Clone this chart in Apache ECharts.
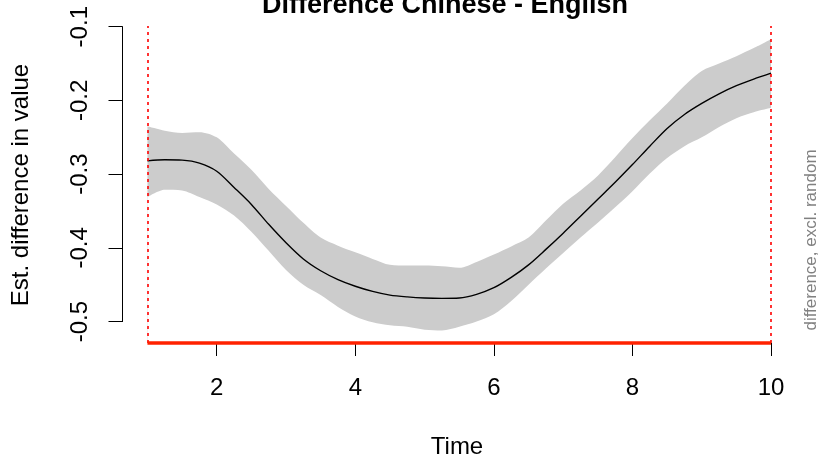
<!DOCTYPE html>
<html><head><meta charset="utf-8">
<script src="https://cdn.jsdelivr.net/npm/echarts@6/dist/echarts.min.js"></script>
<style>html,body{margin:0;padding:0;background:#fff}#c{width:825px;height:458px}</style>
</head><body><div id="c"></div>
<script>
// ---- data ----
const times    = [1, 1.25, 1.5, 1.75, 2, 2.25, 2.5, 2.75, 3, 3.25, 3.5, 3.75, 4, 4.25, 4.5, 4.75, 5, 5.25, 5.5, 5.75,
                  6, 6.25, 6.5, 6.75, 7, 7.25, 7.5, 7.75, 8, 8.25, 8.5, 8.75, 9, 9.25, 9.5, 9.75, 10];
const meanDiff = [-0.282, -0.2805, -0.281, -0.285, -0.296, -0.318, -0.341, -0.368, -0.393, -0.415, -0.431, -0.443,
                  -0.452, -0.459, -0.464, -0.4665, -0.468, -0.4685, -0.468, -0.463, -0.454, -0.440, -0.423, -0.402,
                  -0.380, -0.357, -0.334, -0.311, -0.287, -0.262, -0.238, -0.219, -0.204, -0.191, -0.180, -0.171, -0.163];
const ciUpper  = [-0.235, -0.241, -0.244, -0.243, -0.250, -0.272, -0.294, -0.320, -0.343, -0.366, -0.386, -0.397,
                  -0.406, -0.415, -0.423, -0.424, -0.424, -0.425, -0.427, -0.419, -0.409, -0.398, -0.386, -0.363,
                  -0.340, -0.322, -0.302, -0.277, -0.251, -0.227, -0.204, -0.180, -0.160, -0.150, -0.140, -0.129, -0.117];
const ciLower  = [-0.331, -0.321, -0.322, -0.331, -0.341, -0.356, -0.378, -0.404, -0.430, -0.450, -0.464, -0.480,
                  -0.493, -0.501, -0.505, -0.507, -0.511, -0.512, -0.507, -0.500, -0.490, -0.472, -0.450, -0.428,
                  -0.407, -0.386, -0.366, -0.345, -0.323, -0.299, -0.278, -0.262, -0.250, -0.236, -0.224, -0.216, -0.210];
const sigWindow = [1, 10];           // start / end of significant difference
const xTicks = [2, 4, 6, 8, 10];
const yTicks = [-0.5, -0.4, -0.3, -0.2, -0.1];
const titleText = 'Difference Chinese - English';
const xTitle = 'Time';
const yTitle = 'Est. difference in value';
const sideText = 'difference, excl. random';

// ---- layout ----
const FONT = '"Liberation Sans", Arial, Helvetica, sans-serif';
const xMin = 0.64, xMax = 10.36, yMin = -0.529, yMax = -0.099;
const chart = echarts.init(document.getElementById('c'), null, {renderer: 'canvas'});

function txt(x, y, text, size, opts) {
  opts = opts || {};
  return {
    type: 'text', x: x, y: y, rotation: opts.rot || 0, z: 100,
    style: {
      text: text, fill: opts.color || '#000',
      font: (opts.bold ? 'bold ' : '') + size + 'px ' + FONT,
      align: 'center', verticalAlign: 'middle',
      textAlign: 'center', textVerticalAlign: 'middle'
    }
  };
}

const option = {
  animation: false,
  backgroundColor: '#fff',
  grid: [
    {left: 122.5, right: 29, top: 26, bottom: 115},
    {left: 216.7, right: 53.9, top: 26, bottom: 115},
    {left: 122.5, right: 29, top: 26.7, bottom: 136.4}
  ],
  xAxis: [
    {gridIndex: 0, type: 'value', min: xMin, max: xMax, show: false},
    {gridIndex: 1, type: 'value', min: xTicks[0], max: xTicks[xTicks.length - 1], interval: 2,
     axisLine: {show: true, lineStyle: {color: '#000', width: 1}},
     axisTick: {show: true, length: 13, lineStyle: {color: '#000', width: 1}},
     axisLabel: {show: true, fontSize: 24, fontFamily: FONT, color: '#000', margin: 33, showMinLabel: true, showMaxLabel: true},
     splitLine: {show: false}},
    {gridIndex: 2, type: 'value', min: xMin, max: xMax, show: false}
  ],
  yAxis: [
    {gridIndex: 0, type: 'value', min: yMin, max: yMax, show: false},
    {gridIndex: 1, type: 'value', min: yMin, max: yMax, show: false},
    {gridIndex: 2, type: 'value', min: yTicks[0], max: yTicks[yTicks.length - 1], interval: 0.1,
     axisLine: {show: true, lineStyle: {color: '#000', width: 1}},
     axisTick: {show: true, length: 14, lineStyle: {color: '#000', width: 1}},
     axisLabel: {show: true, rotate: 90, fontSize: 24, fontFamily: FONT, color: '#000', margin: 30,
                 showMinLabel: true, showMaxLabel: true,
                 formatter: v => (Math.round(v * 10) / 10).toFixed(1)},
     splitLine: {show: false}}
  ],
  series: [
    // upper CI filled down to the bottom in grey
    {type: 'line', name: 'upper', xAxisIndex: 0, yAxisIndex: 0,
     data: times.map((t, i) => [t, ciUpper[i]]),
     smooth: 0.3, symbol: 'none',
     lineStyle: {width: 0, opacity: 0},
     areaStyle: {color: '#cccccc', opacity: 1, origin: 'start'}, z: 1},
    // lower CI masks the region below it in white
    {type: 'line', name: 'lower', xAxisIndex: 0, yAxisIndex: 0,
     data: times.map((t, i) => [t, ciLower[i]]),
     smooth: 0.3, symbol: 'none',
     lineStyle: {width: 0, opacity: 0},
     areaStyle: {color: '#ffffff', opacity: 1, origin: 'start'}, z: 2},
    {type: 'line', name: 'mean', xAxisIndex: 0, yAxisIndex: 0,
     data: times.map((t, i) => [t, meanDiff[i]]),
     smooth: 0.3, symbol: 'none',
     lineStyle: {color: '#000', width: 1.4}, z: 3,
     markLine: {silent: true, symbol: ['none', 'none'], label: {show: false},
                lineStyle: {color: '#ff0000', width: 1.6, type: [3, 4]},
                data: sigWindow.map(t => ({xAxis: t}))}},
    {type: 'line', name: 'sig', xAxisIndex: 0, yAxisIndex: 0, clip: false,
     data: sigWindow.map(t => [t, yMin]), symbol: 'none',
     lineStyle: {color: '#ff2200', width: 3.5}, z: 5}
  ],
  graphic: [
    txt(445, 6, titleText, 27, {bold: true}),
    txt(21, 185, yTitle, 24, {rot: Math.PI / 2}),
    txt(457, 447, xTitle, 24),
    txt(811, 240, sideText, 17, {rot: Math.PI / 2, color: '#808080'})
  ]
};
chart.setOption(option);
</script>
</body></html>
